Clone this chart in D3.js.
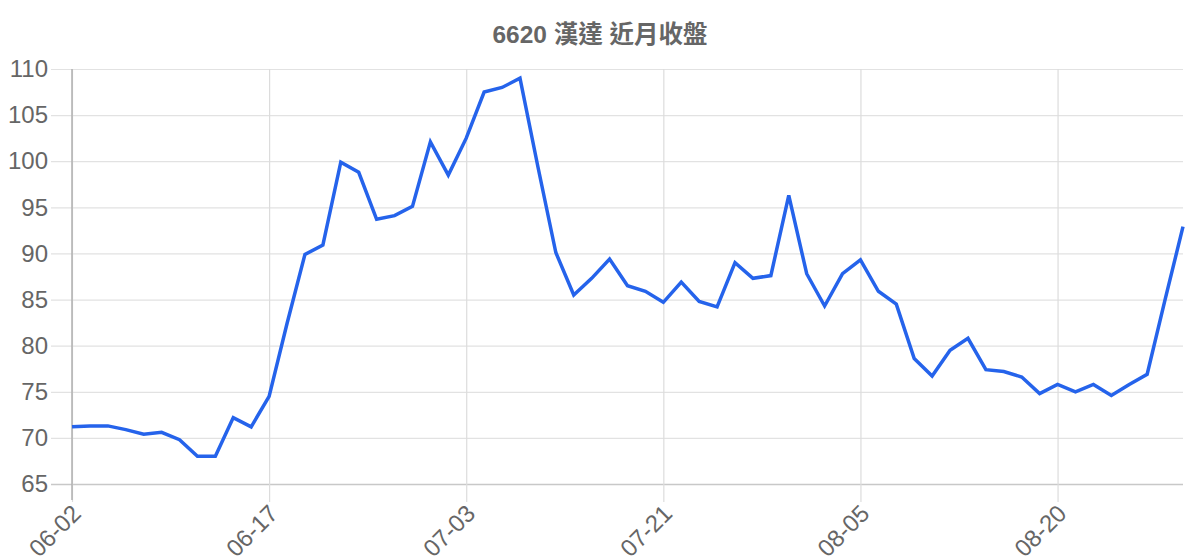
<!DOCTYPE html>
<html>
<head>
<meta charset="utf-8">
<script src="https://cdn.jsdelivr.net/npm/d3@7"></script>
<style>
  html, body { margin: 0; padding: 0; background: #fff; }
  svg { display: block; font-family: "Liberation Sans", Arial, "Noto Sans CJK TC", sans-serif; }
</style>
</head>
<body>
<div id="chart"></div>
<script>
// Chart data
const title = "6620 漢達 近月收盤";

const dates = [
    "06-02", "06-03", "06-04", "06-05", "06-06", "06-09", "06-10", "06-11", "06-12", "06-13",
    "06-16", "06-17", "06-18", "06-19", "06-23", "06-24", "06-25", "06-26", "06-27", "06-30",
    "07-01", "07-02", "07-03", "07-04", "07-08", "07-09", "07-10", "07-11", "07-14", "07-15",
    "07-16", "07-17", "07-18", "07-21", "07-22", "07-23", "07-24", "07-25", "07-28", "07-29",
    "07-30", "07-31", "08-01", "08-04", "08-05", "08-06", "08-07", "08-08", "08-11", "08-12",
    "08-13", "08-14", "08-15", "08-18", "08-19", "08-20", "08-21", "08-22", "08-25", "08-26",
    "08-27", "08-28", "08-29"
];

const closes = [
    71.2, 71.3, 71.3, 70.9, 70.4, 70.6, 69.8, 68.0, 68.0, 72.2,
    71.2, 74.5, 82.4, 89.9, 90.9, 99.9, 98.8, 93.7, 94.1, 95.1,
    102.1, 98.5, 102.5, 107.5, 108.0, 109.0, 99.4, 90.1, 85.5, 87.3,
    89.4, 86.5, 85.9, 84.7, 86.9, 84.8, 84.2, 89.0, 87.3, 87.6,
    96.3, 87.8, 84.3, 87.8, 89.3, 85.9, 84.5, 78.6, 76.7, 79.5,
    80.8, 77.4, 77.2, 76.6, 74.8, 75.8, 75.0, 75.8, 74.6, 75.8,
    76.9, 85.0, 92.9
];

const yTicks = [65, 70, 75, 80, 85, 90, 95, 100, 105, 110];
const xLabelEvery = 11;

// Dimensions
const width = 1200;
const height = 560;
const margin = { top: 69, right: 17, bottom: 76, left: 72 };
const tickLen = 21;

const svg = d3.select("#chart")
    .append("svg")
    .attr("width", width)
    .attr("height", height);

// Scales
const x = d3.scalePoint()
    .domain(dates)
    .range([margin.left, width - margin.right]);

const y = d3.scaleLinear()
    .domain([65, 110])
    .range([height - margin.bottom, margin.top]);

// Horizontal grid + y labels
const yAxis = svg.append("g")
    .attr("transform", `translate(${margin.left - tickLen},0)`)
    .call(d3.axisLeft(y)
        .tickValues(yTicks)
        .tickSize(-(width - margin.right - margin.left + tickLen))
        .tickPadding(3)
    );
yAxis.select(".domain").remove();
yAxis.selectAll(".tick line")
    .attr("stroke", d => d === 65 ? "#c8c8c8" : "#e2e2e2")
    .attr("stroke-width", d => d === 65 ? 1.5 : 1.2);
yAxis.selectAll(".tick text")
    .attr("fill", "#666")
    .attr("font-size", "24px")
    .attr("font-family", "'Liberation Sans', Arial, sans-serif");

// Vertical grid + x labels
const xTicks = dates.filter((d, i) => i % xLabelEvery === 0);
const xAxis = svg.append("g")
    .attr("transform", `translate(0,${margin.top})`)
    .call(d3.axisBottom(x)
        .tickValues(xTicks)
        .tickSize(y(65) - margin.top + 18)
    );
xAxis.select(".domain").remove();
xAxis.selectAll(".tick line")
    .attr("stroke", "#dcdcdc")
    .attr("stroke-width", 1.2);
xAxis.selectAll(".tick text")
    .attr("fill", "#666")
    .attr("font-size", "24px")
    .attr("font-family", "'Liberation Sans', Arial, sans-serif")
    .attr("text-anchor", "end")
    .attr("x", 0)
    .attr("y", 0)
    .attr("dy", "0.35em")
    .attr("transform", `translate(4,${y(65) - margin.top + 25}) rotate(-45)`);

// Y axis line
svg.append("line")
    .attr("x1", margin.left)
    .attr("x2", margin.left)
    .attr("y1", margin.top)
    .attr("y2", y(65) + 16)
    .attr("stroke", "#b0b0b0")
    .attr("stroke-width", 1.5);

// Close price line
const line = d3.line()
    .x((d, i) => x(dates[i]))
    .y(d => y(d));

svg.append("path")
    .datum(closes)
    .attr("fill", "none")
    .attr("stroke", "#2563eb")
    .attr("stroke-width", 3.5)
    .attr("stroke-linejoin", "miter")
    .attr("d", line);

// Title
svg.append("text")
    .attr("x", width / 2)
    .attr("y", 43)
    .attr("text-anchor", "middle")
    .attr("fill", "#666")
    .attr("font-size", "24.5px")
    .attr("font-weight", "bold")
    .attr("font-family", "'Liberation Sans', Arial, 'Noto Sans CJK TC', sans-serif")
    .text(title);
</script>
</body>
</html>
